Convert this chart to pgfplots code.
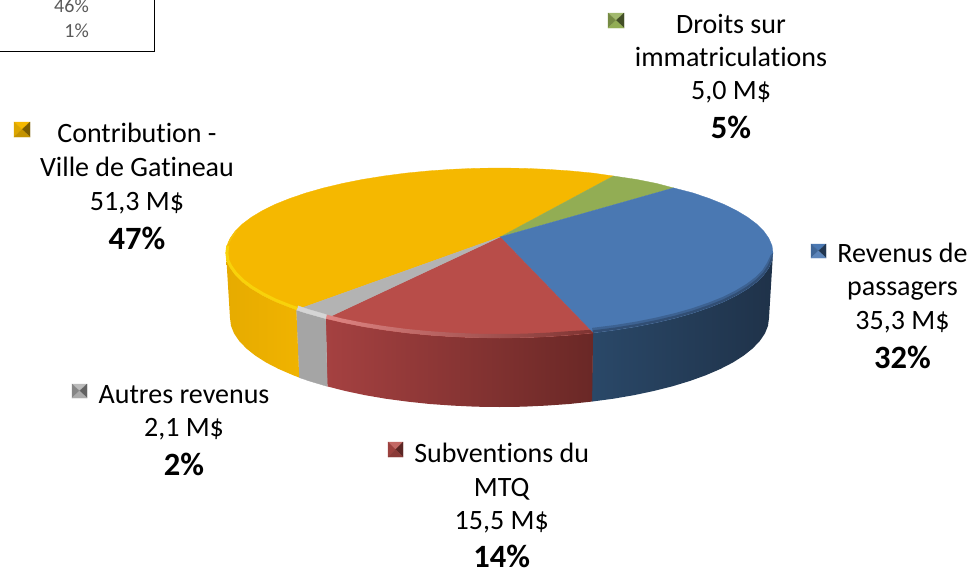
\documentclass[border=0pt]{standalone}
\usepackage{fontspec}
\setmainfont[Ligatures=NoCommon]{Carlito}
\usepackage{pgfplots}
\pgfplotsset{compat=1.18}
\definecolor{cBlue}{HTML}{4A78B2}
\definecolor{cRed}{HTML}{B84D49}
\definecolor{cGrey}{HTML}{B3B3B3}
\definecolor{cYel}{HTML}{F5B800}
\definecolor{cGrn}{HTML}{92AD54}
\definecolor{wB0}{HTML}{1F3249}
\definecolor{wB1}{HTML}{2A4868}
\definecolor{wR0}{HTML}{6A2826}
\definecolor{wR1}{HTML}{A54141}
\definecolor{wY0}{HTML}{E6AB00}
\definecolor{wY1}{HTML}{F0B300}
\newcommand{\band}[2]{\addplot[draw={#1},line width=0.3pt,fill={#1}] coordinates {#2} -- cycle;}
\newcommand{\rim}[3]{\addplot[draw={#1},line width=#2,line cap=butt,no markers] coordinates {#3};}
\newcommand{\tri}[2]{\addplot[draw={#1},line width=0.2pt,fill={#1}] coordinates {#2} -- cycle;}
\newcommand{\lab}[4]{\node[anchor=base,inner sep=0pt,text=#4] at (axis cs:#1,#2) {#3};}
\newcommand{\tx}{\fontsize{28}{28}\selectfont}
\newcommand{\bx}{\fontsize{32.5}{33}\selectfont\bfseries}
\begin{document}
\begin{tikzpicture}
\path[use as bounding box,clip] (0,0) rectangle (970pt,571pt);
\begin{axis}[at={(0,0)},anchor=south west,scale only axis,width=970pt,height=571pt,
  xmin=0,xmax=970,ymin=0,ymax=571,y dir=reverse,axis lines=none,clip=true]
% ---- side walls
\addplot[draw=none,left color=wB1,middle color=wB0,right color=wB0] coordinates {(773.0,253.0)(772.0,260.4)(768.8,267.8)(763.7,275.0)(756.5,282.1)(747.4,288.9)(736.4,295.5)(723.6,301.8)(709.0,307.6)(692.9,313.1)(675.3,318.1)(656.4,322.6)(636.3,326.6)(615.1,330.0)(593.0,332.9)(591.7,401.6)(613.4,398.7)(634.3,395.1)(654.1,390.9)(672.7,386.2)(690.1,380.9)(705.9,375.2)(720.3,369.0)(732.9,362.5)(743.7,355.6)(752.7,348.4)(759.8,341.0)(764.9,333.5)(768.0,325.8)(769.0,318.0)} -- cycle;
\addplot[draw=none,left color=wR1,right color=wR0] coordinates {(593.0,332.9)(570.3,335.1)(547.0,336.7)(523.3,337.7)(499.5,338.0)(475.7,337.7)(452.0,336.7)(428.7,335.1)(406.0,332.9)(383.9,330.0)(362.7,326.6)(342.6,322.6)(325.7,318.6)(327.3,386.4)(344.9,390.9)(364.7,395.1)(385.6,398.7)(407.3,401.6)(429.8,404.0)(452.7,405.6)(476.0,406.7)(499.5,407.0)(523.0,406.7)(546.3,405.6)(569.2,404.0)(591.7,401.6)} -- cycle;
\rim{wR0}{0.8pt}{(592.7,330)(591.7,401.2)}
\band{cGrey!92!black}{(325.7,318.6)(306.1,313.1)(296.3,309.9)(299.2,377.6)(308.9,380.9)(327.3,386.4)}
\addplot[draw=none,left color=wY0,right color=wY1] coordinates {(296.3,309.9)(290.0,307.6)(275.4,301.8)(262.6,295.5)(251.6,288.9)(242.5,282.1)(235.3,275.0)(230.2,267.8)(227.0,260.4)(226.0,253.0)(230.0,318.0)(231.0,325.8)(234.1,333.5)(239.2,341.0)(246.3,348.4)(255.3,355.6)(266.1,362.5)(278.7,369.0)(293.1,375.2)(299.2,377.6)} -- cycle;
% ---- top faces
\band{cYel}{(500,237)(296.3,309.9)(290.0,307.6)(275.4,301.8)(262.6,295.5)(251.6,288.9)(242.5,282.1)(235.3,275.0)(230.2,267.8)(227.0,260.4)(226.0,253.0)(227.0,245.6)(230.2,238.2)(235.3,231.0)(242.5,223.9)(251.6,217.1)(262.6,210.5)(275.4,204.2)(290.0,198.4)(306.1,192.9)(323.7,187.9)(342.6,183.4)(362.7,179.4)(383.9,176.0)(406.0,173.1)(428.7,170.9)(452.0,169.3)(475.7,168.3)(499.5,168.0)(523.3,168.3)(547.0,169.3)(570.3,170.9)(593.0,173.1)(613.5,176.0)}
\band{cGrn}{(500,237)(613.5,176.0)(636.3,179.4)(656.4,183.4)(673.5,187.9)}
\band{cBlue}{(500,237)(673.5,187.9)(692.9,192.9)(709.0,198.4)(723.6,204.2)(736.4,210.5)(747.4,217.1)(756.5,223.9)(763.7,231.0)(768.8,238.2)(772.0,245.6)(773.0,253.0)(772.0,260.4)(768.8,267.8)(763.7,275.0)(756.5,282.1)(747.4,288.9)(736.4,295.5)(723.6,301.8)(709.0,307.6)(692.9,313.1)(675.3,318.1)(656.4,322.6)(636.3,326.6)(615.1,330.0)(593.0,332.9)}
\band{cRed}{(500,237)(593.0,332.9)(570.3,335.1)(547.0,336.7)(523.3,337.7)(499.5,338.0)(475.7,337.7)(452.0,336.7)(428.7,335.1)(406.0,332.9)(383.9,330.0)(362.7,326.6)(342.6,322.6)(325.7,318.6)}
\band{cGrey}{(500,237)(325.7,318.6)(306.1,313.1)(296.3,309.9)}
% ---- bevel along the front edge
\addplot[draw=none,fill=wB0,fill opacity=0.3] coordinates {(773.0,253.0)(772.0,260.4)(768.8,267.8)(763.7,275.0)(756.5,282.1)(747.4,288.9)(736.4,295.5)(723.6,301.8)(709.0,307.6)(692.9,313.1)(675.3,318.1)(656.4,322.6)(636.3,326.6)(615.1,330.0)(593.0,332.9)(592,327.9)(615,325)(636,321.6)(656,317.6)(675,313.1)(692.5,308.1)(708.5,302.6)(723,296.8)(735.5,290.5)(746.5,283.9)(755.5,277.1)(762.5,270)(767,262.8)(770.5,255.4)} -- cycle;
\addplot[draw=none,fill=wB0,fill opacity=0.4] coordinates {(773.0,253.0)(772.0,260.4)(768.8,267.8)(763.7,275.0)(756.5,282.1)(747.4,288.9)(736.4,295.5)(723.6,301.8)(709.0,307.6)(692.9,313.1)(675.3,318.1)(656.4,322.6)(636.3,326.6)(615.1,330.0)(593.0,332.9)(592.5,330.4)(615,327.5)(636.2,324.1)(656.2,320.1)(675.1,315.6)(692.7,310.6)(708.7,305.1)(723.3,299.3)(736,293)(747,286.4)(756,279.6)(763.1,272.5)(767.9,265.3)(771.2,257.9)} -- cycle;
\definecolor{rmA}{HTML}{E08583}
\definecolor{rmB}{HTML}{B94F4C}
\definecolor{rmC}{HTML}{7E3331}
\addplot[draw=none,left color=rmA,middle color=rmB,right color=rmC] coordinates {(593.0,332.9)(570.3,335.1)(547.0,336.7)(523.3,337.7)(499.5,338.0)(475.7,337.7)(452.0,336.7)(428.7,335.1)(406.0,332.9)(383.9,330.0)(362.7,326.6)(342.6,322.6)(325.7,318.6)(326.5,314.6)(342.6,318.6)(362.7,322.6)(383.9,326.0)(406.0,328.9)(428.7,331.1)(452.0,332.7)(475.7,333.7)(499.5,334.0)(523.3,333.7)(547.0,332.7)(570.3,331.1)(590,329.9)} -- cycle;
\band{cGrey!55!white}{(325.7,318.6)(306.1,313.1)(296.3,309.9)(298.3,305.9)(307.6,309.1)(326.5,314.6)}
\rim{yellow!45!cYel}{3pt}{(297.3,308.4)(290.6,306.1)(276.0,300.3)(263.2,294.0)(252.2,287.4)(243.1,280.6)(235.9,273.5)(230.8,266.3)(227.8,260.4)(226.9,253.0)(227.8,245.6)}
\rim{yellow!20!cYel}{1.5pt}{(228.2,243.6)(231.0,238.2)(236.1,231.0)}
% ---- legend box fragment
\addplot[black,line width=1.4pt,no markers] coordinates {(0,51.5)(154.4,51.5)(154.4,0)};
% ---- legend keys
\tri{cYel}{(14,122)(30,122)(22,129.5)}
\tri{cYel!90!black}{(14,122)(22,129.5)(14,137)}
\tri{cYel!50!black}{(30,122)(22,129.5)(30,137)}
\tri{cYel!80!black}{(14,137)(30,137)(22,129.5)}
\tri{cGrn!85!white}{(608,13)(624,13)(616,20.5)}
\tri{cGrn!80!black}{(608,13)(616,20.5)(608,28)}
\tri{cGrn!45!black}{(624,13)(616,20.5)(624,28)}
\tri{cGrn}{(608,28)(624,28)(616,20.5)}
\tri{cBlue}{(811,244)(826,244)(818.5,251)}
\tri{cBlue!85!black}{(811,244)(818.5,251)(811,258)}
\tri{cBlue!45!black}{(826,244)(818.5,251)(826,258)}
\tri{cBlue!90!white}{(811,258)(826,258)(818.5,251)}
\tri{cRed!85!white}{(388,442)(403,442)(395.5,449.5)}
\tri{cRed!85!black}{(388,442)(395.5,449.5)(388,457)}
\tri{cRed!50!black}{(403,442)(395.5,449.5)(403,457)}
\tri{cRed!75!black}{(388,457)(403,457)(395.5,449.5)}
\tri{cGrey!90!white}{(72,384)(87,384)(79.5,391)}
\tri{cGrey!75!black}{(72,384)(79.5,391)(72,398)}
\tri{cGrey!55!black}{(87,384)(79.5,391)(87,398)}
\tri{cGrey!95!black}{(72,398)(87,398)(79.5,391)}
% ---- text
\node[anchor=base east,inner sep=0pt,text=black!65] at (axis cs:89,12.5) {\fontsize{20}{20}\selectfont 46\%};
\node[anchor=base east,inner sep=0pt,text=black!65] at (axis cs:89,37) {\fontsize{20}{20}\selectfont 1\%};
\lab{731}{33}{\tx Droits sur}{black}
\lab{731}{66}{\tx immatriculations}{black}
\lab{731}{99}{\tx 5,0 M\$}{black}
\lab{731}{138}{\bx 5\%}{black}
\lab{137}{142}{\tx Contribution -}{black}
\lab{137}{176}{\tx Ville de Gatineau}{black}
\lab{137}{210}{\tx 51,3 M\$}{black}
\lab{137}{249}{\bx 47\%}{black}
\lab{902.5}{262}{\tx Revenus de}{black}
\lab{902.5}{295}{\tx passagers}{black}
\lab{902.5}{329}{\tx 35,3 M\$}{black}
\lab{902.5}{368}{\bx 32\%}{black}
\lab{184}{403}{\tx Autres revenus}{black}
\lab{184}{436}{\tx 2,1 M\$}{black}
\lab{184}{475}{\bx 2\%}{black}
\lab{501.7}{462}{\tx Subventions du}{black}
\lab{501.7}{496}{\tx MTQ}{black}
\lab{501.7}{529}{\tx 15,5 M\$}{black}
\lab{501.7}{567}{\bx 14\%}{black}
\end{axis}
\end{tikzpicture}
\end{document}
